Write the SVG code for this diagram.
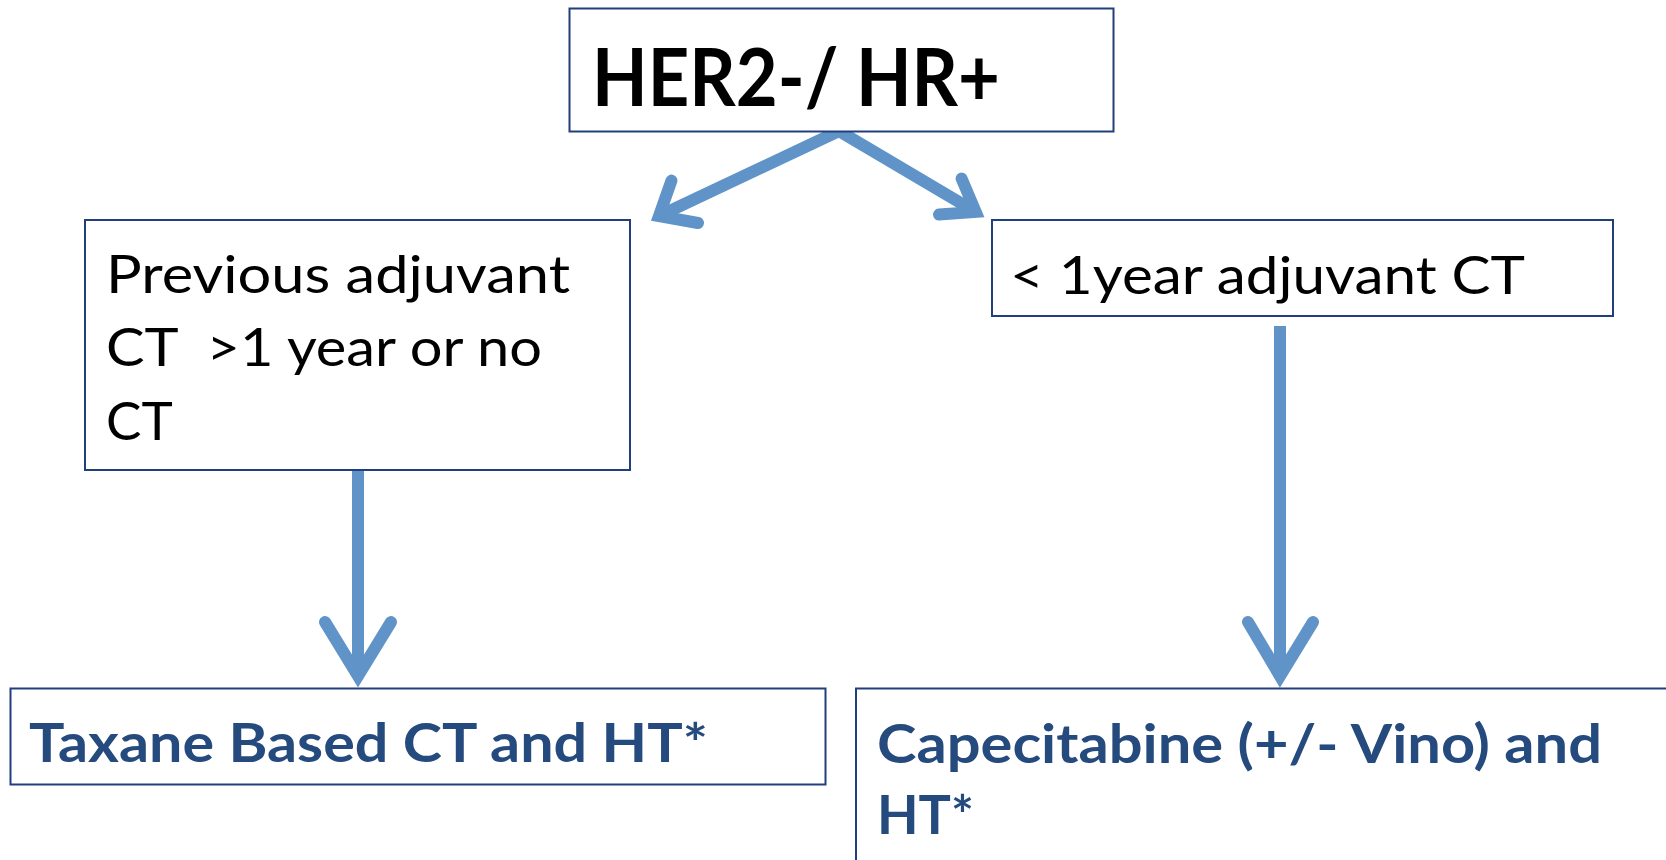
<svg xmlns="http://www.w3.org/2000/svg" width="1666" height="860" viewBox="0 0 1666 860">
<style>
.box{fill:#fff;stroke:#213f7a;stroke-width:2}
.t{font-family:Lato,"Liberation Sans",sans-serif;fill:#000}
.b{font-family:Lato,"Liberation Sans",sans-serif;font-weight:bold;fill:#254a7e}
.arr{fill:none;stroke:#6094c8;stroke-width:12;stroke-linecap:round;stroke-linejoin:miter}
.shaft{fill:none;stroke:#6094c8;stroke-width:12}
</style>
<rect width="1666" height="860" fill="#fff"/>
<g id="connectors">
<path class="shaft" d="M839 131 L659 216"/>
<polyline class="arr" points="671.5,180.6 659,216 698,223"/>
<path class="shaft" d="M839 131 L975.7 211.9"/>
<polyline class="arr" points="961.6,178.5 975.7,211.9 939,214.6"/>
<path class="shaft" d="M358 470 L358 676"/>
<polyline class="arr" points="325,622 358,676 391,622"/>
<path class="shaft" d="M1280 326 L1280 676"/>
<polyline class="arr" points="1248,622 1280,676 1313,622"/>
</g>
<g id="n-top">
<rect class="box" x="569.5" y="8.5" width="544" height="123"/>
<text class="t" font-weight="bold" x="592" y="106" font-size="81" textLength="408" lengthAdjust="spacingAndGlyphs">HER2-/ HR+</text>
</g>
<g id="n-left">
<rect class="box" x="85" y="220" width="545" height="250"/>
<text class="t" font-size="53" x="106" y="293" textLength="464" lengthAdjust="spacingAndGlyphs">Previous adjuvant</text>
<text class="t" font-size="53" x="106" y="366" xml:space="preserve" textLength="436" lengthAdjust="spacingAndGlyphs">CT  &gt;1 year or no</text>
<text class="t" font-size="53" x="106" y="440">CT</text>
</g>
<g id="n-right">
<rect class="box" x="992" y="220" width="621" height="96"/>
<text class="t" font-size="53" x="1010" y="294" textLength="515" lengthAdjust="spacingAndGlyphs">&lt; 1year adjuvant CT</text>
</g>
<g id="n-bl">
<rect class="box" x="10.5" y="688.5" width="815" height="96"/>
<text class="b" font-size="54" x="29" y="762" textLength="679" lengthAdjust="spacingAndGlyphs">Taxane Based CT and HT*</text>
</g>
<g id="n-br">
<rect class="box" x="856" y="688.5" width="830" height="200"/>
<text class="b" font-size="54" x="877" y="763" textLength="725" lengthAdjust="spacingAndGlyphs">Capecitabine (+/- Vino) and</text>
<text class="b" font-size="54" x="877" y="834">HT*</text>
</g>
</svg>
